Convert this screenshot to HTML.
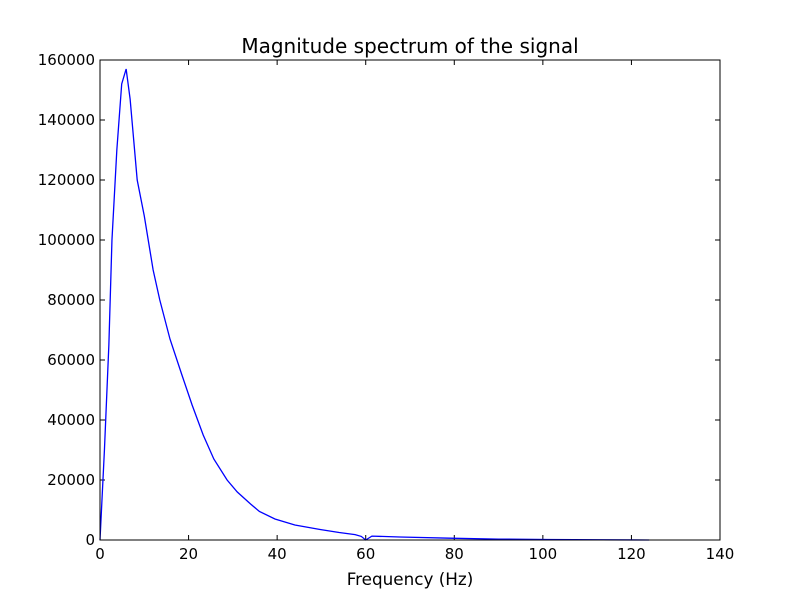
<!DOCTYPE html>
<html><head><meta charset="utf-8"><style>
body{margin:0;background:#fff;}
svg{display:block;font-family:"DejaVu Sans","Liberation Sans",sans-serif;}
</style></head><body>
<svg id="chart" width="800" height="600" viewBox="0 0 800 600">
<rect width="800" height="600" fill="#fff"/>
<text x="410" y="53" text-anchor="middle" font-size="20">Magnitude spectrum of the signal</text>
<text x="410" y="585" text-anchor="middle" font-size="16.8">Frequency (Hz)</text>
<g id="ticks"></g>
<path id="line" fill="none" stroke="#0000ff" stroke-width="1.3"/>
<rect x="100" y="60" width="620" height="480" fill="none" stroke="#000" stroke-width="1"/>
</svg>
<script>
const freq = [0,1,2,2.7,3.8,4.9,5.9,6.8,8.4,10,12,13.5,15.8,18.5,20.8,23.3,25.7,28.7,31,34,36,39.5,44,49.7,54,57.6,59,60,61.4,67.7,79,90,101,113,124];
const mag = [0,30000,65000,100000,130000,152000,157000,147000,120000,108000,90000,80000,67000,55000,45000,35000,27000,20000,16000,12000,9500,7000,5000,3500,2500,1800,1200,0,1300,1000,600,300,150,60,0];
const xTicks = [0,20,40,60,80,100,120,140];
const yTicks = [0,20000,40000,60000,80000,100000,120000,140000,160000];
const X0=100,X1=720,Y0=540,Y1=60;
const xs = v => X0 + v/140*(X1-X0);
const ys = v => Y0 - v/160000*(Y0-Y1);
const NS='http://www.w3.org/2000/svg';
const g=document.getElementById('ticks');
function mk(tag,attrs){const e=document.createElementNS(NS,tag);for(const k in attrs)e.setAttribute(k,attrs[k]);g.appendChild(e);return e;}
xTicks.forEach(t=>{
  const x=xs(t);
  const a=mk('line',{x1:x,x2:x,y1:Y0,y2:Y0-5,stroke:'#000'});
  
  
  const b=mk('line',{x1:x,x2:x,y1:Y1,y2:Y1+5,stroke:'#000'});
  
  
  const tx=mk('text',{x:x,y:Y0+19,'text-anchor':'middle','font-size':'15'});
  tx.textContent=t;
  
  
});
yTicks.forEach(t=>{
  const y=ys(t);
  const a=mk('line',{x1:X0,x2:X0+5,y1:y,y2:y,stroke:'#000'});
  
  
  const b=mk('line',{x1:X1,x2:X1-5,y1:y,y2:y,stroke:'#000'});
  
  
  const tx=mk('text',{x:X0-5,y:y+5,'text-anchor':'end','font-size':'15'});
  tx.textContent=t;
  
  
});
document.getElementById('line').setAttribute('d',freq.map((f,i)=>(i?'L':'M')+xs(f).toFixed(2)+','+ys(mag[i]).toFixed(2)).join(''));
</script>
</body></html>
